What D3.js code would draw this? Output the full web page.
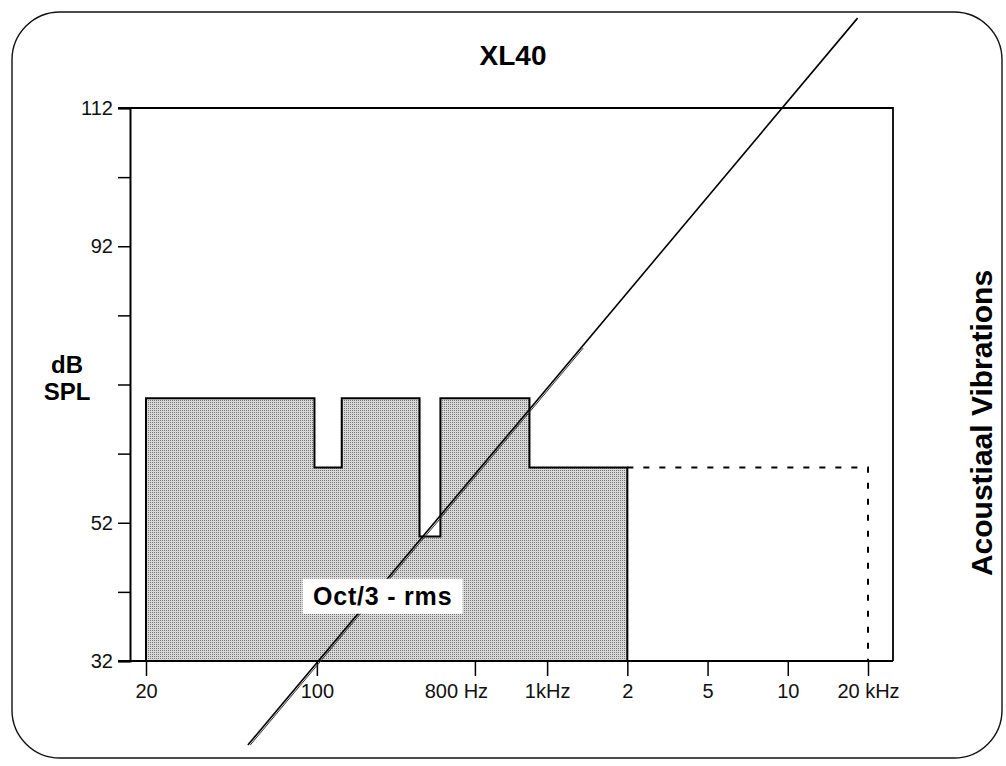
<!DOCTYPE html>
<html>
<head>
<meta charset="utf-8">
<script src="https://cdn.jsdelivr.net/npm/d3@7"></script>
<style>
  html, body { margin: 0; padding: 0; background: #fff; }
  svg { display: block; font-family: "Liberation Sans", Arial, Helvetica, sans-serif; }
</style>
</head>
<body>
<svg id="chart" width="1006" height="766"></svg>
<script>
// ---- data ----
const title = "XL40";
const yTitleLines = ["dB", "SPL"];
const sideTitle = "Acoustiaal Vibrations";
const bandLabel = "Oct/3 - rms";

// x axis: position index along the (non-uniform) frequency axis
const xTickValues = [0, 2.13, 4.1, 5.0, 6, 7, 8, 9];
const xTickLabels = ["20", "100", "800 Hz", "1kHz", "2", "5", "10", "20 kHz"];

const yTickValues = [32, 42, 52, 62, 72, 82, 92, 102, 112];
const yTickLabels = ["32", "", "52", "", "", "", "92", "", "112"];

// filled step spectrum (band edges in axis-index units, levels in dB)
const bandEdges  = [0, 2.1, 2.44, 3.41, 3.67, 4.78, 6];
const bandLevels = [70, 60, 70, 50, 70, 60];

// dashed extension
const dashEdges  = [6, 9];
const dashLevels = [60];

// diagonal line (two nearly overlapping strokes)
const diagX  = [1.27, 8.87];
const diagY  = [19.85, 125];
const diag2X = [1.30, 5.45];
const diag2Y = [19.85, 77.27];

// label anchor (axis units)
const bandLabelAt = [2.95, 41.3];

// ---- drawing ----
const svg = d3.select("#chart");
const x = d3.scaleLinear().domain([0, 9]).range([146, 868]);
const y = d3.scaleLinear().domain([32, 112]).range([661, 108]);
const frameLeft = 130, frameRight = 893;

// outer rounded border
svg.append("rect")
  .attr("x", 12).attr("y", 12).attr("width", 990).attr("height", 746)
  .attr("rx", 48).attr("ry", 48)
  .attr("fill", "none").attr("stroke", "#111").attr("stroke-width", 1.4);

// stipple pattern
const defs = svg.append("defs");
const pat = defs.append("pattern").attr("id", "stip")
  .attr("width", 2).attr("height", 2).attr("patternUnits", "userSpaceOnUse");
pat.append("rect").attr("width", 2).attr("height", 2).attr("fill", "#d8d8d8");
pat.append("rect").attr("width", 1).attr("height", 1).attr("fill", "#777");

// step area
const pts = [[bandEdges[0], 32]];
bandLevels.forEach((l, i) => pts.push([bandEdges[i], l]));
pts.push([bandEdges[bandEdges.length - 1], bandLevels[bandLevels.length - 1]]);
pts.push([bandEdges[bandEdges.length - 1], 32]);
const stepLine = d3.line().x(d => x(d[0])).y(d => y(d[1])).curve(d3.curveStepAfter);
svg.append("path").attr("d", stepLine(pts) + "Z")
  .attr("fill", "url(#stip)").attr("stroke", "#000").attr("stroke-width", 2);

// dashed extension
const dpts = [];
dashLevels.forEach((l, i) => dpts.push([dashEdges[i], l]));
dpts.push([dashEdges[dashEdges.length - 1], dashLevels[dashLevels.length - 1]]);
dpts.push([dashEdges[dashEdges.length - 1], 32]);
svg.append("path").attr("d", stepLine(dpts))
  .attr("fill", "none").attr("stroke", "#000").attr("stroke-width", 2)
  .attr("stroke-dasharray", "6,10");

// frame (top, right)
svg.append("path")
  .attr("d", `M${frameLeft - 12},${y(112)}H${frameRight}V${y(32)}`)
  .attr("fill", "none").attr("stroke", "#000").attr("stroke-width", 1.8);

// y axis
const yAxis = d3.axisLeft(y).tickValues(yTickValues).tickSize(12).tickPadding(5)
  .tickFormat((d, i) => yTickLabels[i]);
const gy = svg.append("g").attr("transform", `translate(${frameLeft},0)`).call(yAxis);
gy.select(".domain").attr("stroke-width", 2);
gy.selectAll(".tick line").attr("stroke-width", 1.5);
gy.selectAll(".tick text").attr("font-size", 20).attr("fill", "#111")
  .attr("font-family", "Liberation Sans, Arial, sans-serif");

// x axis (bottom line)
svg.append("line").attr("x1", frameLeft - 12).attr("x2", frameRight)
  .attr("y1", y(32)).attr("y2", y(32)).attr("stroke", "#000").attr("stroke-width", 2);
const xAxis = d3.axisBottom(x).tickValues(xTickValues).tickSize(15).tickPadding(8)
  .tickFormat((d, i) => xTickLabels[i]);
const gx = svg.append("g").attr("transform", `translate(0,${y(32)})`).call(xAxis);
gx.select(".domain").remove();
gx.selectAll(".tick line").attr("stroke-width", 1.5);
gx.selectAll(".tick text").attr("font-size", 20).attr("fill", "#111")
  .attr("font-family", "Liberation Sans, Arial, sans-serif")
  .attr("dx", (d, i) => xTickLabels[i] === "800 Hz" ? -19 : 0);

// diagonal lines
const dl = d3.line().x(d => x(d[0])).y(d => y(d[1]));
svg.append("path").attr("d", dl(diag2X.map((v, i) => [v, diag2Y[i]])))
  .attr("fill", "none").attr("stroke", "#333").attr("stroke-width", 1);
svg.append("path").attr("d", dl(diagX.map((v, i) => [v, diagY[i]])))
  .attr("fill", "none").attr("stroke", "#000").attr("stroke-width", 1.6);

// band label with white box
const lbl = svg.append("g")
  .attr("transform", `translate(${x(bandLabelAt[0])},${y(bandLabelAt[1])})`);
lbl.append("rect").attr("x", -80).attr("y", -18).attr("width", 160).attr("height", 35)
  .attr("fill", "#fff");
lbl.append("text").attr("text-anchor", "middle").attr("dy", "0.35em")
  .attr("font-size", 25).attr("font-weight", "bold").attr("letter-spacing", 0.8)
  .text(bandLabel);

// title
svg.append("text").attr("x", 513).attr("y", 65).attr("text-anchor", "middle")
  .attr("font-size", 28).attr("font-weight", "bold").text(title);

// y title
yTitleLines.forEach((t, i) => {
  svg.append("text").attr("x", 67).attr("y", 373 + i * 27).attr("text-anchor", "middle")
    .attr("font-size", 24).attr("font-weight", "bold").text(t);
});

// side title
svg.append("text").attr("transform", "translate(992,423) rotate(-90)")
  .attr("text-anchor", "middle").attr("font-size", 30).attr("font-weight", "bold")
  .text(sideTitle);
</script>
</body>
</html>
